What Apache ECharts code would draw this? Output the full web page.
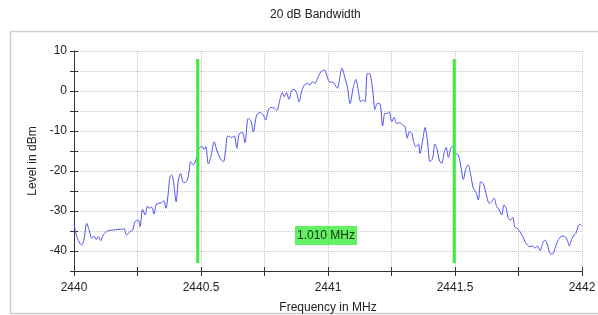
<!DOCTYPE html>
<html>
<head>
<meta charset="utf-8">
<script src="https://cdn.jsdelivr.net/npm/echarts@6/dist/echarts.min.js"></script>
<style>
    html, body {margin: 0; padding: 0; background: #fff;}
    #main {width: 598px; height: 315px;}
</style>
</head>
<body>
<div id="main"></div>
<script>
// 频率 (MHz) 与电平 (dBm)
var freqs = [
    2440.000, 2440.011, 2440.030, 2440.039, 2440.050, 2440.060, 2440.070, 2440.079, 2440.087, 2440.096,
    2440.105, 2440.115, 2440.135, 2440.155, 2440.174, 2440.192, 2440.197, 2440.207, 2440.220, 2440.231,
    2440.240, 2440.253, 2440.260, 2440.270, 2440.280, 2440.289, 2440.296, 2440.306, 2440.315, 2440.323,
    2440.332, 2440.345, 2440.354, 2440.362, 2440.371, 2440.378, 2440.385, 2440.394, 2440.402, 2440.411,
    2440.420, 2440.428, 2440.437, 2440.446, 2440.454, 2440.459, 2440.470, 2440.480, 2440.492, 2440.503,
    2440.513, 2440.519, 2440.529, 2440.539, 2440.552, 2440.562, 2440.575, 2440.588, 2440.597, 2440.605,
    2440.621, 2440.631, 2440.641, 2440.650, 2440.663, 2440.673, 2440.686, 2440.697, 2440.706, 2440.719,
    2440.732, 2440.745, 2440.755, 2440.765, 2440.776, 2440.789, 2440.798, 2440.811, 2440.820, 2440.828,
    2440.837, 2440.846, 2440.857, 2440.867, 2440.877, 2440.886, 2440.896, 2440.907, 2440.920, 2440.929,
    2440.938, 2440.949, 2440.959, 2440.972, 2440.985, 2441.005, 2441.021, 2441.037, 2441.047, 2441.055,
    2441.067, 2441.076, 2441.087, 2441.100, 2441.110, 2441.119, 2441.129, 2441.139, 2441.146, 2441.155,
    2441.165, 2441.176, 2441.185, 2441.194, 2441.205, 2441.215, 2441.224, 2441.233, 2441.241, 2441.251,
    2441.260, 2441.270, 2441.283, 2441.294, 2441.303, 2441.312, 2441.320, 2441.330, 2441.336, 2441.346,
    2441.356, 2441.362, 2441.373, 2441.382, 2441.391, 2441.402, 2441.412, 2441.421, 2441.430, 2441.438,
    2441.448, 2441.457, 2441.465, 2441.474, 2441.483, 2441.491, 2441.500, 2441.513, 2441.522, 2441.533,
    2441.543, 2441.552, 2441.562, 2441.572, 2441.583, 2441.592, 2441.601, 2441.611, 2441.622, 2441.635,
    2441.644, 2441.654, 2441.664, 2441.674, 2441.684, 2441.693, 2441.701, 2441.710, 2441.719, 2441.727,
    2441.736, 2441.745, 2441.756, 2441.767, 2441.776, 2441.785, 2441.795, 2441.806, 2441.815, 2441.824,
    2441.835, 2441.845, 2441.854, 2441.863, 2441.874, 2441.885, 2441.894, 2441.903, 2441.913, 2441.924,
    2441.933, 2441.942, 2441.950, 2441.959, 2441.969, 2441.976, 2441.985, 2441.992, 2441.999
];
var levels = [
    -33.1, -36.4, -38.5, -37.3, -33.1, -34.8, -36.8, -36.3, -37.1, -36.4,
    -37.4, -36.0, -34.9, -34.75, -34.6, -34.6, -34.3, -36.0, -35.2, -34.75,
    -32.7, -32.3, -33.9, -29.6, -31.0, -28.75, -29.3, -29.1, -30.75, -28.5,
    -28.1, -27.9, -27.4, -29.3, -25.6, -21.4, -21.0, -23.9, -27.7, -22.25,
    -20.6, -22.7, -22.9, -22.25, -19.75, -17.7, -18.5, -17.25, -14.3, -13.9,
    -14.6, -13.9, -18.25, -16.4, -12.7, -14.75, -16.8, -17.7, -14.75, -11.25,
    -11.6, -11.25, -14.3, -10.75, -10.4, -12.9, -6.8, -7.6, -10.2, -6.0,
    -5.4, -6.0, -7.25, -4.75, -4.1, -4.3, -4.9, -2.1, -0.4, -1.4,
    -0.4, -2.1, 0.1, 0.4, -0.6, -2.7, -0.2, 1.5, 1.9, 1.5,
    2.3, 1.9, 3.2, 4.8, 5.25, 2.3, 2.1, 0.7, 3.6, 5.7,
    3.2, 1.1, -3.1, 1.1, 2.9, 0.25, -2.7, -2.25, -2.7, 4.4,
    4.25, 0.25, -4.6, -3.1, -3.25, -8.75, -5.6, -5.6, -5.2, -7.7,
    -6.6, -8.1, -7.9, -8.5, -8.9, -11.8, -10.2, -10.6, -12.4, -13.9,
    -13.25, -15.6, -12.25, -9.1, -12.25, -17.7, -16.8, -13.25, -14.75, -17.25,
    -18.1, -15.6, -14.1, -16.6, -14.4, -13.75, -15.4, -16.0, -18.5, -22.1,
    -19.3, -18.5, -21.0, -24.3, -25.4, -27.25, -22.7, -23.1, -25.6, -28.1,
    -27.7, -26.8, -28.9, -29.75, -31.0, -28.5, -29.3, -31.8, -32.25, -31.6,
    -34.1, -34.3, -35.2, -36.4, -37.7, -38.5, -38.9, -38.75, -39.3, -38.75,
    -39.9, -38.1, -37.25, -38.25, -40.6, -40.75, -39.3, -37.7, -36.6, -36.25,
    -36.4, -37.25, -38.75, -37.1, -36.0, -35.6, -33.75, -33.25, -33.75
];
// 20 dB 带宽的两条标记线
var markerFreqs = [2440.487, 2441.497];
var markerTop = 8;
var markerBottom = -43;
var bandwidthText = '1.010 MHz';
var bandwidthLabelPos = [2440.992, -36.1];

var trace = [];
for (var i = 0; i < freqs.length; i++) {
    trace.push([freqs[i], levels[i]]);
}

var series1 = [{
    type: 'line',
    data: trace,
    showSymbol: false,
    smooth: 0.3,
    lineStyle: {color: '#5151ee', width: 1},
    z: 2
}];
for (var k = 0; k < markerFreqs.length; k++) {
    series1.push({
        type: 'line',
        data: [[markerFreqs[k], markerTop], [markerFreqs[k], markerBottom]],
        showSymbol: false,
        lineStyle: {color: '#3cec3c', width: 3},
        z: 3
    });
}
series1.push({
    type: 'scatter',
    data: [bandwidthLabelPos],
    symbolSize: 0,
    label: {
        show: true,
        position: 'inside',
        formatter: bandwidthText,
        color: '#000',
        fontSize: 12,
        fontFamily: 'Liberation Sans',
        backgroundColor: '#3cec3c',
        padding: [4, 2, 3, 2]
    },
    z: 4
});

var axisCommon = {
    axisLine: {show: true, onZero: false, lineStyle: {color: '#333', width: 1}},
    splitLine: {show: true, lineStyle: {color: '#c8c8c8', type: 'dotted', width: 1}}
};

var myCharts = echarts.init(document.getElementById('main'), null, {renderer: 'canvas'});
myCharts.setOption({
    animation: false,
    backgroundColor: '#fff',
    textStyle: {fontFamily: 'Liberation Sans'},
    title: {
        text: '20 dB Bandwidth',
        left: 265,
        top: 4,
        textStyle: {fontSize: 12, fontWeight: 'normal', color: '#222'}
    },
    graphic: [{
        type: 'rect',
        shape: {x: 10.5, y: 31.5, width: 600, height: 282},
        style: {fill: 'none', stroke: '#cfcfcf', lineWidth: 1.5},
        silent: true
    }],
    grid: {left: 74, right: 16, top: 51, bottom: 44, outerBoundsMode: 'none', containLabel: false},
    xAxis: [{
        type: 'value',
        min: 2440,
        max: 2442,
        interval: 0.25,
        name: 'Frequency in MHz',
        nameLocation: 'middle',
        nameGap: 31,
        nameTextStyle: {fontSize: 12, color: '#222'},
        axisLine: axisCommon.axisLine,
        axisTick: {show: true, length: 5, lineStyle: {color: '#333'}},
        axisLabel: {
            fontSize: 12,
            color: '#222',
            margin: 11,
            formatter: function (v) {
                return (Math.round(v * 4) % 2 === 0) ? String(v) : '';
            }
        },
        splitLine: axisCommon.splitLine
    }, {
        // 让刻度穿过坐标轴
        type: 'value',
        position: 'bottom',
        min: 2440,
        max: 2442,
        interval: 0.25,
        axisLine: {show: false, onZero: false},
        axisTick: {show: true, inside: true, length: 4, lineStyle: {color: '#333'}},
        axisLabel: {show: false},
        splitLine: {show: false}
    }],
    yAxis: [{
        type: 'value',
        min: -45,
        max: 10,
        interval: 5,
        name: 'Level in dBm',
        nameLocation: 'middle',
        nameGap: 26,
        nameTextStyle: {fontSize: 12, color: '#222'},
        axisLine: axisCommon.axisLine,
        axisTick: {show: true, length: 4, lineStyle: {color: '#333'}},
        axisLabel: {
            fontSize: 12,
            color: '#222',
            margin: 7,
            formatter: function (v) {
                return (v % 10 === 0) ? String(v) : '';
            }
        },
        splitLine: axisCommon.splitLine
    }, {
        type: 'value',
        position: 'left',
        min: -45,
        max: 10,
        interval: 5,
        axisLine: {show: false, onZero: false},
        axisTick: {show: true, inside: true, length: 4, lineStyle: {color: '#333'}},
        axisLabel: {show: false},
        splitLine: {show: false}
    }],
    series: series1
});
</script>
</body>
</html>
